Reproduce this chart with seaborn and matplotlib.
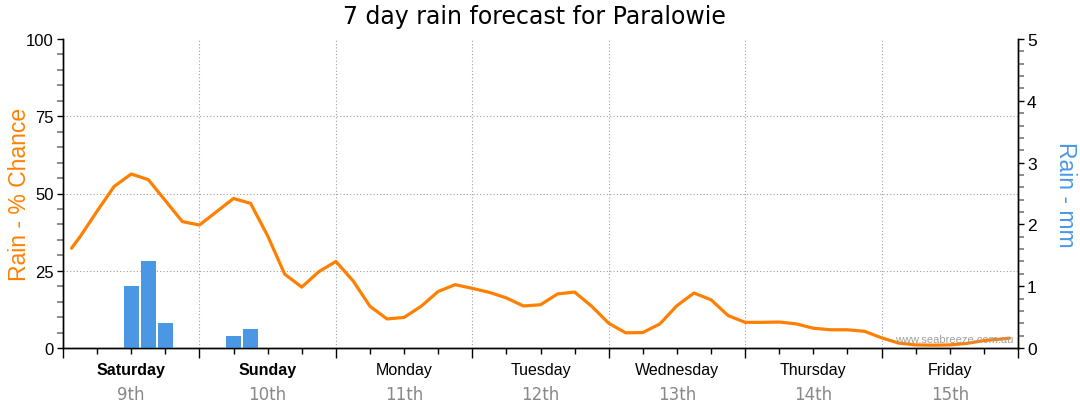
import matplotlib
matplotlib.use("Agg")
import matplotlib.pyplot as plt
import matplotlib.transforms as mtransforms
from matplotlib.ticker import MultipleLocator
import seaborn as sns

# Forecast data (hours since Saturday 00:00)
days = ["Saturday", "Sunday", "Monday", "Tuesday", "Wednesday", "Thursday", "Friday"]
dates = ["9th", "10th", "11th", "12th", "13th", "14th", "15th"]
weekend = [True, True, False, False, False, False, False]

chance_hours = [1.5] + list(range(3, 166, 3)) + [166.5]
chance_pct = [
    32.3, 36.0, 44.3, 52.3, 56.3, 54.5, 47.7, 40.9,   # Sat
    39.8, 44.1, 48.4, 46.8, 36.3, 23.9, 19.7, 24.7,   # Sun
    28.0, 21.8, 13.5, 9.4, 9.9, 13.5, 18.3, 20.5,     # Mon
    19.3, 18.0, 16.2, 13.6, 14.0, 17.5, 18.1, 13.5,   # Tue
    8.0, 4.9, 5.0, 7.8, 13.7, 17.8, 15.6, 10.5,       # Wed
    8.3, 8.3, 8.4, 7.8, 6.4, 5.9, 5.9, 5.4,           # Thu
    3.3, 1.6, 1.0, 0.9, 1.0, 1.5, 2.4, 2.9, 3.2,      # Fri
]

rain_hours = [12, 15, 18, 30, 33]
rain_mm = [1.0, 1.4, 0.4, 0.2, 0.3]

ORANGE = "#ff8000"
BLUE = "#4a98e4"
GRID = "#a0a0a0"

sns.set_theme(style="white")
plt.rcParams["font.family"] = ["Liberation Sans", "DejaVu Sans"]

fig = plt.figure(figsize=(10.8, 4.14), dpi=100)
ax = fig.add_axes([63 / 1080, 65 / 414, 955 / 1080, 309 / 414])
ax2 = ax.twinx()

# rain amount bars (right axis)
sns.barplot(x=rain_hours, y=rain_mm, native_scale=True, ax=ax2, color=BLUE,
            saturation=1, width=0.9, linewidth=0)

# rain chance line (left axis)
sns.lineplot(x=chance_hours, y=chance_pct, ax=ax, color=ORANGE, linewidth=2.3)

ax.set_xlim(0, 168)
ax.set_ylim(0, 100)
ax2.set_ylim(0, 5)

# dotted grid
for y in [25, 50, 75]:
    ax.axhline(y, color=GRID, lw=0.8, ls=(0, (1, 2)), zorder=0)
for x in range(24, 168, 24):
    ax.axvline(x, color=GRID, lw=0.8, ls=(0, (1, 2)), zorder=0)

# spines
for a in (ax, ax2):
    a.spines["top"].set_visible(False)
    for s in ["left", "right", "bottom"]:
        a.spines[s].set_color("black")
        a.spines[s].set_linewidth(1)

# ticks
ax.set_xticks(range(0, 169, 24))
ax.set_xticklabels([])
ax.xaxis.set_minor_locator(MultipleLocator(6))
ax.tick_params(axis="x", which="major", direction="out", length=7.5, width=1,
               color="black", bottom=True)
ax.tick_params(axis="x", which="minor", direction="out", length=4.5, width=1,
               color="black", bottom=True)

ax.set_yticks([0, 25, 50, 75, 100])
ax.yaxis.set_minor_locator(MultipleLocator(5))
ax.tick_params(axis="y", which="major", direction="out", length=4.5, width=1,
               color="black", labelcolor="black", labelsize=12, left=True, pad=2)
ax.tick_params(axis="y", which="minor", direction="out", length=4, width=1.2,
               color="#777777", left=True)

ax2.set_yticks([0, 1, 2, 3, 4, 5])
ax2.yaxis.set_minor_locator(MultipleLocator(0.2))
ax2.tick_params(axis="y", which="major", direction="out", length=4.5, width=1,
                color="black", labelcolor="black", labelsize=12.5, right=True, pad=2)
ax2.tick_params(axis="y", which="minor", direction="out", length=4, width=1.2,
                color="#777777", right=True)

ax.set_xlabel("")
ax2.set_xlabel("")

# axis titles
ax.set_ylabel("Rain - % Chance", fontsize=16.5, color=ORANGE, va="center")
ax.yaxis.set_label_coords(-0.046, 0.5)
ax2.set_ylabel("Rain - mm", fontsize=16.5, color=BLUE, rotation=270, va="center")
ax2.yaxis.set_label_coords(1.05, 0.5)

# day / date labels under each day
trans = mtransforms.blended_transform_factory(ax.transData, ax.transAxes)
for i, (d, dt, wk) in enumerate(zip(days, dates, weekend)):
    xc = 12 + 24 * i
    ax.text(xc, -0.068, d, transform=trans, ha="center", va="center",
            fontsize=11.5, fontweight="bold" if wk else "normal", color="black")
    ax.text(xc, -0.148, dt, transform=trans, ha="center", va="center",
            fontsize=12, family=["DejaVu Sans"], color="#888888")

fig.text(0.495, 0.958, "7 day rain forecast for Paralowie", ha="center", va="center",
         fontsize=17, family=["DejaVu Sans"], color="black")
fig.text(1013 / 1080, 1 - 340 / 414, "www.seabreeze.com.au", ha="right", va="center",
         fontsize=8, color="#a0a0a0")

fig.savefig("out.png", dpi=100)
